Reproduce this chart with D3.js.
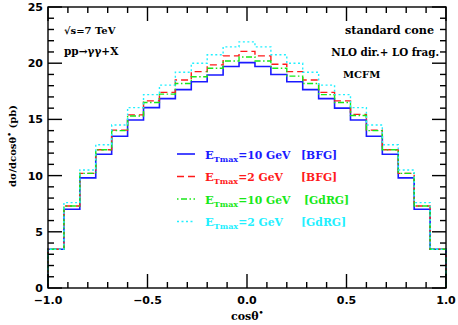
<!DOCTYPE html>
<html><head><meta charset="utf-8">
<script src="https://cdn.jsdelivr.net/npm/d3@7"></script>
<style>body{margin:0;background:#fff}svg{display:block}</style>
</head><body>
<svg id="c" width="458" height="325"></svg>
<script>
// bin edges: 25 bins of width 0.08 from -1 to 1
const binEdges = d3.range(26).map(i => -1 + i * 0.08);
const blueBFG10 = [3.45,7.0,9.8,11.9,13.5,14.95,16.05,16.85,17.65,18.35,18.95,19.7,20.05,19.7,19.0,18.35,17.65,16.85,16.0,14.95,13.5,11.9,9.8,7.0,3.45];
const redBFG2   = [3.45,7.3,10.2,12.3,14.05,15.4,16.65,17.4,18.5,19.25,19.85,20.65,21.05,20.65,19.9,19.25,18.5,17.4,16.65,15.45,14.05,12.3,10.2,7.3,3.45];
const greenGdRG10 = [3.45,7.3,10.2,12.3,14.0,15.3,16.5,17.25,18.2,18.8,19.55,20.2,20.55,20.2,19.55,18.85,18.2,17.2,16.5,15.35,14.0,12.3,10.2,7.3,3.45];
const cyanGdRG2 = [3.45,7.6,10.5,12.75,14.5,16.05,17.2,18.05,19.2,20.0,20.75,21.45,21.9,21.45,20.75,20.0,19.2,18.05,17.2,16.05,14.5,12.75,10.5,7.6,3.45];

const seriesNames = ["blue","red","green","cyan"];
const seriesValues = [blueBFG10, redBFG2, greenGdRG10, cyanGdRG2];
const seriesColors = ["#1a1aff","#ff1a1a","#18e818","#22f0ff"];
const seriesDash = ["none","7,4","1.5,2.5,6,2.5","2,2.5"];
const legendValue = ["=10 GeV","=2 GeV","=10 GeV","=2 GeV"];
const legendSet = ["[BFG]","[BFG]","[GdRG]","[GdRG]"];

const xTicksMajor = [-1,-0.5,0,0.5,1];
const xTickLabels = ["\u22121.0","\u22120.5","0.0","0.5","1.0"];
const yTicksMajor = [0,5,10,15,20,25];

const svg = d3.select("#c");
const L=48,R=446,T=7,B=288;
const x = d3.scaleLinear().domain([-1,1]).range([L,R]);
const y = d3.scaleLinear().domain([0,25]).range([B,T]);

// histograms
const line = d3.line().x(d=>x(d[0])).y(d=>y(d[1]));
seriesValues.forEach((vals,si)=>{
  const pts=[[-1,0]];
  vals.forEach((v,i)=>{pts.push([binEdges[i],v]);pts.push([binEdges[i+1],v]);});
  pts.push([1,0]);
  svg.append("path").attr("d",line(pts)).attr("fill","none")
    .attr("stroke",seriesColors[si]).attr("stroke-width",si===0?1.6:1.4)
    .attr("stroke-dasharray",seriesDash[si]);
});

// frame
const g=svg.append("g").attr("stroke","#000").attr("stroke-width",1.4);
g.append("rect").attr("x",L).attr("y",T).attr("width",R-L).attr("height",B-T).attr("fill","none");
const xMinor=d3.range(-10,11).map(i=>i/10);
xMinor.forEach(v=>{
  const major = Math.abs(v*2-Math.round(v*2))<1e-9;
  const len = major?14:6;
  g.append("line").attr("x1",x(v)).attr("x2",x(v)).attr("y1",B).attr("y2",B-len);
  g.append("line").attr("x1",x(v)).attr("x2",x(v)).attr("y1",T).attr("y2",T+len);
});
d3.range(0,26).forEach(v=>{
  const len = v%5===0?14:6;
  g.append("line").attr("x1",L).attr("x2",L+len).attr("y1",y(v)).attr("y2",y(v));
  g.append("line").attr("x1",R).attr("x2",R-len).attr("y1",y(v)).attr("y2",y(v));
});

// tick labels
const tickFont="'DejaVu Sans',sans-serif";
svg.selectAll(".xl").data(xTicksMajor).enter().append("text")
  .attr("x",d=>x(d)).attr("y",304).attr("text-anchor","middle")
  .attr("font-family",tickFont).attr("font-weight","bold").attr("font-size",11)
  .text((d,i)=>xTickLabels[i]);
svg.selectAll(".yl").data(yTicksMajor).enter().append("text")
  .attr("x",43).attr("y",d=>y(d)+4).attr("text-anchor","end")
  .attr("font-family",tickFont).attr("font-weight","bold").attr("font-size",11)
  .text(d=>d);

const serif="'DejaVu Serif',serif";
function txt(xx,yy,s,anchor,size){
  return svg.append("text").attr("x",xx).attr("y",yy).attr("text-anchor",anchor||"start")
    .attr("font-family",serif).attr("font-weight","bold").attr("font-size",size||10.5).text(s);
}
txt(64,34,"\u221As=7 TeV",null,10);
txt(64,55,"pp\u2192\u03B3\u03B3+X",null,10.5);
txt(434,34,"standard cone","end",11.2);
txt(439,56,"NLO dir.+ LO frag.","end",10.3);
txt(343,78,"MCFM",null,10);

// axis titles
const xt=svg.append("text").attr("x",231).attr("y",320).attr("font-family",serif)
  .attr("font-weight","bold").attr("font-size",11);
xt.append("tspan").text("cos\u03B8");
xt.append("tspan").attr("dy",-5).attr("font-size",8).text("\u2022");
const yt=svg.append("text").attr("transform","translate(16,146) rotate(-90)")
  .attr("text-anchor","middle").attr("font-family",serif)
  .attr("font-weight","bold").attr("font-size",10);
yt.append("tspan").text("d\u03C3/dcos\u03B8");
yt.append("tspan").attr("dy",-4.5).attr("font-size",7.5).text("\u2022");
yt.append("tspan").attr("dy",4.5).text(" (pb)");

// legend
const legY=[154,176.5,199,221.5];
const legSetX=[301,301,304,301];
seriesNames.forEach((n,i)=>{
  svg.append("line").attr("x1",177).attr("x2",195).attr("y1",legY[i]).attr("y2",legY[i])
    .attr("stroke",seriesColors[i]).attr("stroke-width",1.6).attr("stroke-dasharray",seriesDash[i]);
  const t=svg.append("text").attr("x",205).attr("y",legY[i]+4.5).attr("font-family",serif)
    .attr("font-weight","bold").attr("font-size",10.8).attr("fill",seriesColors[i]);
  t.append("tspan").attr("font-size",11.5).text("E");
  t.append("tspan").attr("dy",3).attr("font-size",8).text("Tmax");
  t.append("tspan").attr("dy",-3).text(legendValue[i]);
  svg.append("text").attr("x",legSetX[i]).attr("y",legY[i]+4.5).attr("font-family",serif)
    .attr("font-weight","bold").attr("font-size",10.8).attr("fill",seriesColors[i]).text(legendSet[i]);
});
</script>
</body></html>
